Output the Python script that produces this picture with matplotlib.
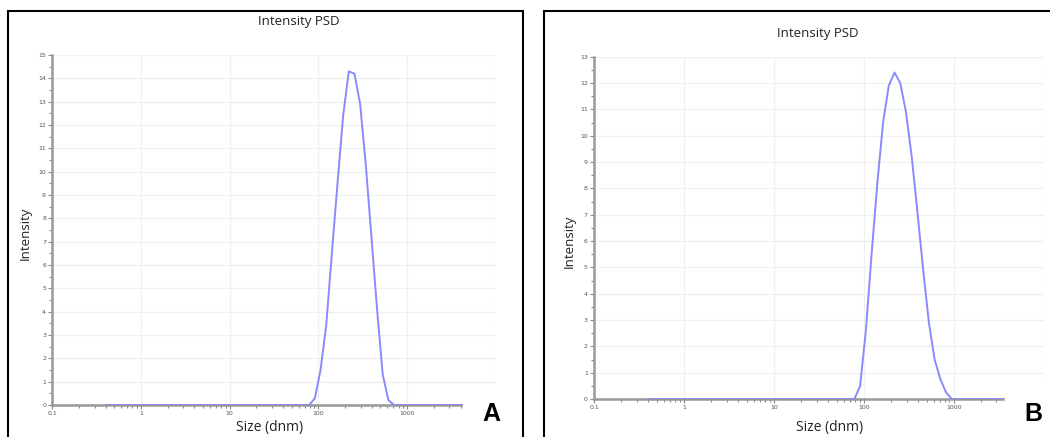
import matplotlib.pyplot as plt
from matplotlib.patches import Rectangle
from matplotlib.ticker import FixedLocator, NullFormatter, MultipleLocator

# size classes (d.nm) of the instrument
sizes = [0.4, 0.4632, 0.5365, 0.6213, 0.7195, 0.8332, 0.9649, 1.117, 1.294,
         1.499, 1.736, 2.010, 2.328, 2.696, 3.122, 3.615, 4.187, 4.849,
         5.615, 6.503, 7.531, 8.721, 10.10, 11.70, 13.54, 15.69, 18.17,
         21.04, 24.36, 28.21, 32.67, 37.84, 43.82, 50.75, 58.77, 68.06,
         78.82, 91.28, 105.7, 122.4, 141.8, 164.2, 190.1, 220.2, 255.0,
         295.3, 342.0, 396.1, 458.7, 531.2, 615.1, 712.4, 825.0, 955.4,
         1106, 1281, 1484, 1718, 1990, 2305, 2669, 3091, 3580, 4145]

# intensity (%) per size class
intensity_a = ([0] * 37 +
               [0.29, 1.5, 3.4, 6.5, 9.5, 12.4, 14.3, 14.2, 12.9, 10.3,
                7.2, 4.1, 1.3, 0.21] +
               [0] * 13)
intensity_b = ([0] * 37 +
               [0.5, 2.6, 5.5, 8.2, 10.5, 11.9, 12.4, 12.0, 10.9, 9.2,
                7.1, 4.9, 2.9, 1.5, 0.75, 0.25] +
               [0] * 10)

x_ticks = [0.1, 1, 10, 100, 1000]
x_tick_labels = ["0.1", "1", "10", "100", "1000"]

W, H = 1050, 437
fig = plt.figure(figsize=(W / 100, H / 100), dpi=100)
fig.patch.set_facecolor("white")


def px(x, y):
    # pixel position (from top-left) to figure fraction
    return x / W, 1 - y / H


def panel(rect, xs, ys, ymax, frame, title_xy, ylab_xy, xlab_xy,
          letter, letter_xy, cover):
    ax = fig.add_axes(rect)
    ax.plot(xs, ys, '-', color="#8a8aff", lw=1.4, zorder=3)
    ax.set_xscale("log")
    ax.set_xlim(0.1, 10000)
    ax.set_ylim(0, ymax)
    ax.xaxis.set_major_locator(FixedLocator(x_ticks))
    ax.set_xticklabels(x_tick_labels)
    minors = [m * 10.0 ** e for e in range(-1, 4) for m in range(2, 10)]
    ax.xaxis.set_minor_locator(FixedLocator(minors))
    ax.xaxis.set_minor_formatter(NullFormatter())
    ax.yaxis.set_major_locator(MultipleLocator(1))
    ax.yaxis.set_minor_locator(MultipleLocator(0.5))
    ax.tick_params(which="both", colors="#888888", labelcolor="#555555",
                   labelsize=4.5, direction="out", pad=1.5)
    ax.tick_params(which="major", length=3, width=0.8)
    ax.tick_params(which="minor", length=2, width=0.8)
    ax.grid(True, which="major", color="#f0f0f0", lw=0.9, zorder=0)
    ax.axvline(10000, color="#f0f0f0", lw=0.9, zorder=0)
    ax.axhline(ymax, color="#f0f0f0", lw=0.9, zorder=0)
    for s in ["top", "right"]:
        ax.spines[s].set_visible(False)
    for s in ["left", "bottom"]:
        ax.spines[s].set_color("#999999")
        ax.spines[s].set_linewidth(1.8)
    ax.spines["bottom"].set_bounds(0.1, xs[-1])
    ax.set_axisbelow(True)

    # black panel frame
    x0, y0 = px(frame[0], frame[1])
    x1, y1 = px(frame[2], frame[3])
    fig.patches.append(Rectangle((x0, y1), x1 - x0, y0 - y1,
                                 transform=fig.transFigure, fill=False,
                                 ec="black", lw=1.5, zorder=10))
    # white box behind the panel letter
    cx0, cy0 = px(cover[0], cover[1])
    cx1, cy1 = px(cover[2], cover[3])
    fig.patches.append(Rectangle((cx0, cy1), cx1 - cx0, cy0 - cy1,
                                 transform=fig.transFigure, fc="white",
                                 ec="none", zorder=5))

    fig.text(*px(*title_xy), "Intensity PSD", family="Open Sans",
             fontsize=9.5, ha="center", va="center", color="#222222")
    fig.text(*px(*ylab_xy), "Intensity", family="Open Sans", fontsize=9.5,
             rotation=90, ha="center", va="center", color="#222222")
    fig.text(*px(*xlab_xy), "Size (dnm)", family="Open Sans", fontsize=10,
             ha="center", va="center", color="#222222")
    fig.text(*px(*letter_xy), letter, family="Liberation Sans",
             fontweight="bold", fontsize=18, ha="center", va="center",
             zorder=12)
    return ax


# panel A
l, b = px(52.3, 405)
r, t = px(495.8, 55)
panel([l, b, r - l, t - b], sizes, intensity_a, 15,
      frame=(7.5, 11, 523, 445), title_xy=(299, 21), ylab_xy=(25, 233),
      xlab_xy=(270, 428), letter="A", letter_xy=(491, 414),
      cover=(463, 384, 520, 437))

# panel B
l, b = px(594, 399)
r, t = px(1043.5, 56.7)
panel([l, b, r - l, t - b], sizes[:63], intensity_b, 13,
      frame=(544, 11, 1060, 445), title_xy=(818, 34), ylab_xy=(569, 241),
      xlab_xy=(830, 427), letter="B", letter_xy=(1033, 414),
      cover=(1005, 385, 1050, 437))

plt.savefig("out.png", dpi=100)
plt.close()
